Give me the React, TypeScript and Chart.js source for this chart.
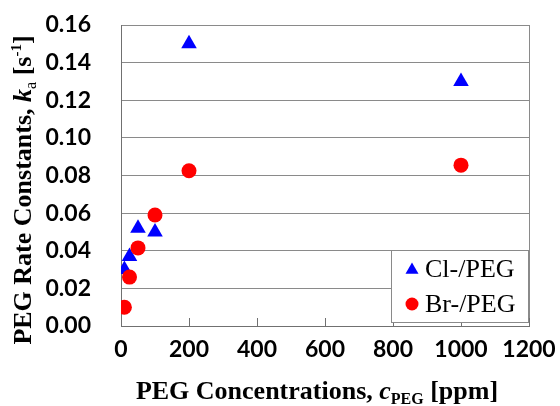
import React, { useEffect, useRef } from "react";
import { Chart, registerables } from "chart.js";

Chart.register(...registerables);

const clX = [10, 25, 50, 100, 200, 1000];
const clY = [0.030, 0.037, 0.052, 0.050, 0.150, 0.130];
const brX = [10, 25, 50, 100, 200, 1000];
const brY = [0.010, 0.026, 0.0415, 0.059, 0.0825, 0.0855];
const xTicks = [0, 200, 400, 600, 800, 1000, 1200];
const yTicks = [0, 0.02, 0.04, 0.06, 0.08, 0.1, 0.12, 0.14, 0.16];
const seriesNames = ["Cl-/PEG", "Br-/PEG"];

const SERIF = '"Liberation Serif", "Times New Roman", serif';
const TICK_FONT = "Lato";
const GRID = "#8a8a8a";

type Seg = { t: string; font: string; dy?: number };

function drawRich(ctx: CanvasRenderingContext2D, segs: Seg[], cx: number, y: number) {
  let total = 0;
  for (const s of segs) {
    ctx.font = s.font;
    total += ctx.measureText(s.t).width;
  }
  let x = cx - total / 2;
  ctx.textBaseline = "alphabetic";
  ctx.textAlign = "left";
  for (const s of segs) {
    ctx.font = s.font;
    ctx.fillText(s.t, x, y + (s.dy || 0));
    x += ctx.measureText(s.t).width;
  }
}

const decorPlugin = {
  id: "decor",
  afterDraw(chart: any) {
    const ctx: CanvasRenderingContext2D = chart.ctx;
    const a = chart.chartArea;
    const xs = chart.scales.x;
    ctx.save();
    // frame
    ctx.strokeStyle = GRID;
    ctx.lineWidth = 1;
    ctx.beginPath();
    ctx.moveTo(Math.round(a.right) + 0.5, a.top);
    ctx.lineTo(Math.round(a.right) + 0.5, a.bottom);
    ctx.stroke();
    // inward x ticks
    ctx.strokeStyle = "#707070";
    for (const v of xTicks) {
      const px = Math.round(xs.getPixelForValue(v)) + 0.5;
      ctx.beginPath();
      ctx.moveTo(px, a.bottom);
      ctx.lineTo(px, a.bottom - 8);
      ctx.stroke();
    }
    // legend
    const lx = 391.5, ly = 250.5, lw = 137, lh = 72;
    ctx.fillStyle = "#ffffff";
    ctx.fillRect(lx, ly, lw, lh);
    ctx.strokeStyle = GRID;
    ctx.strokeRect(lx, ly, lw, lh);
    const ds = chart.data.datasets;
    ctx.fillStyle = ds[0].backgroundColor;
    const tx = 412, ty = 270, tr = 7.5;
    ctx.beginPath();
    ctx.moveTo(tx, ty - tr);
    ctx.lineTo(tx + tr * 0.866, ty + tr * 0.5);
    ctx.lineTo(tx - tr * 0.866, ty + tr * 0.5);
    ctx.closePath();
    ctx.fill();
    ctx.fillStyle = ds[1].backgroundColor;
    ctx.beginPath();
    ctx.arc(412, 304, 6.5, 0, Math.PI * 2);
    ctx.fill();
    ctx.fillStyle = "#000";
    ctx.font = `26px ${SERIF}`;
    ctx.textAlign = "left";
    ctx.textBaseline = "alphabetic";
    ctx.fillText(ds[0].label, 425, 277);
    ctx.fillText(ds[1].label, 425, 312);
    // x title
    const B = (s: number) => `bold ${s}px ${SERIF}`;
    const BI = (s: number) => `italic bold ${s}px ${SERIF}`;
    drawRich(
      ctx,
      [
        { t: "PEG Concentrations, ", font: B(26) },
        { t: "c", font: BI(26) },
        { t: "PEG", font: B(16), dy: 5 },
        { t: " [ppm]", font: B(26) },
      ],
      317,
      399
    );
    // y title
    ctx.save();
    ctx.translate(31, 190);
    ctx.rotate(-Math.PI / 2);
    drawRich(
      ctx,
      [
        { t: "PEG Rate Constants, ", font: B(26) },
        { t: "k", font: BI(26) },
        { t: "a", font: `${16}px ${SERIF}`, dy: 5 },
        { t: " [s", font: B(26) },
        { t: "-1", font: B(15), dy: -10 },
        { t: "]", font: B(26) },
      ],
      0,
      0
    );
    ctx.restore();
    ctx.restore();
  },
};

export default function App() {
  const ref = useRef<HTMLCanvasElement>(null);
  useEffect(() => {
    document.body.style.margin = "0";
    const chart = new Chart(ref.current!, {
      type: "scatter",
      data: {
        datasets: [
          {
            label: seriesNames[0],
            data: clX.map((x, i) => ({ x, y: clY[i] })),
            backgroundColor: "#0000ff",
            borderColor: "#0000ff",
            pointStyle: "triangle",
            pointRadius: 9,
            borderWidth: 0,
            order: 2,
          },
          {
            label: seriesNames[1],
            data: brX.map((x, i) => ({ x, y: brY[i] })),
            backgroundColor: "#ff0000",
            borderColor: "#ff0000",
            pointStyle: "circle",
            pointRadius: 7.5,
            borderWidth: 0,
            order: 1,
          },
        ],
      },
      plugins: [decorPlugin],
      options: {
        responsive: false,
        animation: false,
        layout: { padding: { left: 0, top: 25, right: 31, bottom: 0 } },
        plugins: { legend: { display: false }, tooltip: { enabled: false } },
        scales: {
          x: {
            type: "linear",
            min: 0,
            max: 1200,
            afterBuildTicks: (s: any) => {
              s.ticks = xTicks.map((v) => ({ value: v }));
            },
            afterFit: (s: any) => {
              s.height = 80;
              s.paddingLeft = 0;
              s.paddingRight = 0;
            },
            ticks: {
              color: "#000",
              font: { family: TICK_FONT, size: 23, weight: "bold" },
              padding: 10,
              maxRotation: 0,
              autoSkip: false,
              callback: (v: any) => String(v),
            },
            grid: { drawOnChartArea: false, drawTicks: false },
            border: { display: true, color: "#707070", width: 1 },
          },
          y: {
            type: "linear",
            min: 0,
            max: 0.16,
            afterBuildTicks: (s: any) => {
              s.ticks = yTicks.map((v) => ({ value: v }));
            },
            afterFit: (s: any) => {
              s.width = 121;
              s.paddingTop = 0;
              s.paddingBottom = 0;
            },
            ticks: {
              color: "#000",
              font: { family: TICK_FONT, size: 23, weight: "bold" },
              padding: 30,
              callback: (v: any) => Number(v).toFixed(2),
            },
            grid: { color: GRID, drawTicks: false },
            border: { display: true, color: "#707070", width: 1 },
          },
        },
      },
    } as any);
    return () => chart.destroy();
  }, []);
  return (
    <div style={{ width: 560, height: 406, background: "#fff" }}>
      <canvas ref={ref} width={560} height={406} />
    </div>
  );
}
